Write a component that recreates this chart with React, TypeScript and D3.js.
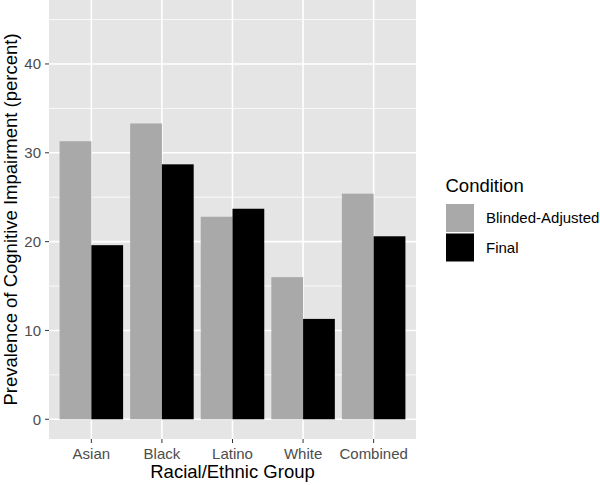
import React from "react";
import * as d3 from "d3";

const groups = ["Asian", "Black", "Latino", "White", "Combined"];
const conditions = ["Blinded-Adjusted", "Final"];
const blindedValues = [31.3, 33.3, 22.8, 16.0, 25.4];
const finalValues = [19.6, 28.7, 23.7, 11.3, 20.6];
const yTicks = [0, 10, 20, 30, 40];
const yMinor = [5, 15, 25, 35, 45];
const colors = ["#A9A9A9", "#000000"];

const W = 600;
const H = 485;
const font = "'Liberation Sans', Arial, sans-serif";

export default function App() {
  const panel = { left: 49, right: 416, top: 0, bottom: 439 };

  // discrete axis with 0.6 expansion on each side like ggplot
  const x = d3
    .scaleLinear()
    .domain([0.4, groups.length + 0.6])
    .range([panel.left, panel.right]);
  const y = d3.scaleLinear().domain([-2.22, 47.2]).range([panel.bottom, panel.top]);

  const dodge = d3.scaleBand().domain(conditions).range([-0.45, 0.45]).padding(0);
  const series = [blindedValues, finalValues];

  return (
    <svg width={W} height={H} style={{ position: "absolute", left: 0, top: 0 }}>
      <rect x={0} y={0} width={W} height={H} fill="#fff" />
      <rect
        x={panel.left}
        y={panel.top}
        width={panel.right - panel.left}
        height={panel.bottom - panel.top}
        fill="#E5E5E5"
      />
      <g className="grid">
        {yMinor.map((t) => (
          <line key={"m" + t} x1={panel.left} x2={panel.right} y1={y(t)} y2={y(t)} stroke="#fff" strokeWidth={0.8} />
        ))}
        {yTicks.map((t) => (
          <line key={"y" + t} x1={panel.left} x2={panel.right} y1={y(t)} y2={y(t)} stroke="#fff" strokeWidth={1.6} />
        ))}
        {groups.map((g, i) => (
          <line key={g} x1={x(i + 1)} x2={x(i + 1)} y1={panel.top} y2={panel.bottom} stroke="#fff" strokeWidth={1.6} />
        ))}
      </g>
      <g className="bars">
        {series.map((vals, s) =>
          vals.map((v, i) => {
            const x0 = x(i + 1 + (dodge(conditions[s]) as number));
            const x1 = x(i + 1 + (dodge(conditions[s]) as number) + dodge.bandwidth());
            return (
              <rect
                key={s + "-" + i}
                x={x0}
                y={y(v)}
                width={x1 - x0}
                height={y(0) - y(v)}
                fill={colors[s]}
              />
            );
          })
        )}
      </g>
      <g className="y-axis" fontFamily={font} fontSize={15} fill="#4D4D4D">
        {yTicks.map((t) => (
          <g key={t}>
            <line x1={panel.left - 4} x2={panel.left} y1={y(t)} y2={y(t)} stroke="#333" strokeWidth={1} />
            <text x={panel.left - 8} y={y(t)} dy="0.35em" textAnchor="end">
              {t}
            </text>
          </g>
        ))}
      </g>
      <g className="x-axis" fontFamily={font} fontSize={15} fill="#4D4D4D">
        {groups.map((g, i) => (
          <g key={g}>
            <line x1={x(i + 1)} x2={x(i + 1)} y1={panel.bottom} y2={panel.bottom + 4} stroke="#333" strokeWidth={1} />
            <text x={x(i + 1)} y={459} textAnchor="middle">
              {g}
            </text>
          </g>
        ))}
      </g>
      <text
        x={(panel.left + panel.right) / 2}
        y={478}
        textAnchor="middle"
        fontFamily={font}
        fontSize={18.5}
        fill="#000"
      >
        Racial/Ethnic Group
      </text>
      <text
        transform={`translate(17, ${(panel.top + panel.bottom) / 2}) rotate(-90)`}
        textAnchor="middle"
        fontFamily={font}
        fontSize={18.5}
        fill="#000"
      >
        Prevalence of Cognitive Impairment (percent)
      </text>
      <g className="legend" fontFamily={font}>
        <text x={445.5} y={191.5} fontSize={18.5} fill="#000">
          Condition
        </text>
        {conditions.map((c, i) => (
          <g key={c} transform={`translate(446, ${204 + i * 29.5})`}>
            <rect x={0} y={0} width={28} height={28} fill={colors[i]} />
            <text x={40} y={14} dy="0.35em" fontSize={15} fill="#000">
              {c}
            </text>
          </g>
        ))}
      </g>
    </svg>
  );
}
